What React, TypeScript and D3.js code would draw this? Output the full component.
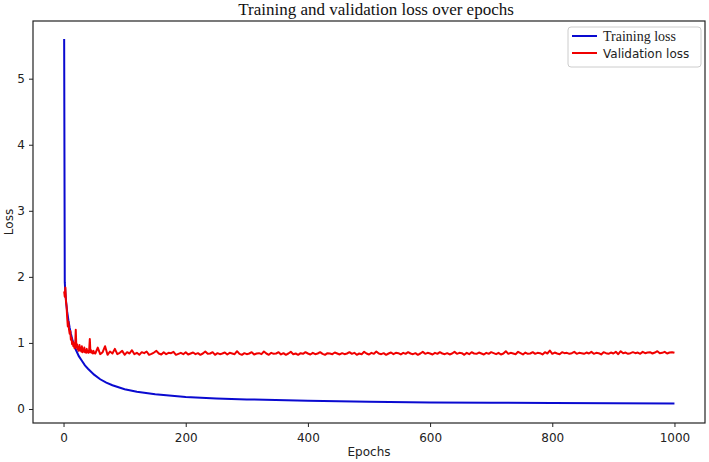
import React, { useEffect, useRef } from "react";
import * as d3 from "d3";

// training loss (smooth curve)
const trainEpochs = [1, 2, 3, 4, 5, 6, 8, 10, 12, 15, 20, 25, 30, 35, 40, 50, 60, 70, 80, 100, 120, 150, 200, 250, 300, 400, 500, 600, 700, 800, 900, 1000];
const trainLoss = [5.6, 1.92, 1.76, 1.64, 1.55, 1.47, 1.34, 1.23, 1.14, 1.03, 0.9, 0.8, 0.73, 0.66, 0.61, 0.52, 0.45, 0.4, 0.36, 0.3, 0.262, 0.222, 0.183, 0.16, 0.145, 0.125, 0.11, 0.1, 0.095, 0.09, 0.086, 0.082];

// validation loss: every epoch for 1..50, then every 4th epoch
const valEarly = [
  1.78, 1.7, 1.84, 1.62, 1.55, 1.38, 1.25, 1.32, 1.2, 1.14,
  1.18, 1.05, 1.08, 0.98, 1.02, 0.95, 0.99, 0.92, 0.96, 1.2,
  0.93, 0.98, 0.9, 0.94, 0.88, 0.97, 0.89, 0.92, 0.87, 0.95,
  0.86, 0.9, 0.87, 0.93, 0.86, 0.89, 0.85, 0.91, 0.86, 0.88,
  0.85, 0.9, 1.06, 0.86, 0.89, 0.85, 0.87, 0.84, 0.88, 0.85,
];
const valLate = [
  0.84, 0.93, 0.83, 0.86, 0.95, 0.82, 0.87, 0.84, 0.91, 0.83, 0.85, 0.88, 0.82, 0.86, 0.84, 0.89, 0.83, 0.85, 0.82, 0.86,
  0.845, 0.87, 0.82, 0.835, 0.855, 0.88, 0.84, 0.825, 0.86, 0.83, 0.85, 0.845, 0.865, 0.82, 0.835, 0.85, 0.83, 0.86, 0.825, 0.84,
  0.855, 0.83, 0.845, 0.82, 0.84, 0.87, 0.835, 0.84, 0.86, 0.82, 0.845, 0.83, 0.84, 0.855, 0.825, 0.85, 0.84, 0.83, 0.875, 0.835,
  0.82, 0.845, 0.83, 0.84, 0.86, 0.825, 0.84, 0.845, 0.83, 0.87, 0.84, 0.82, 0.85, 0.835, 0.84, 0.86, 0.825, 0.845, 0.82, 0.84,
  0.865, 0.83, 0.84, 0.82, 0.845, 0.835, 0.86, 0.84, 0.825, 0.85, 0.83, 0.84, 0.86, 0.835, 0.82, 0.845, 0.84, 0.83, 0.855, 0.84,
  0.825, 0.845, 0.83, 0.84, 0.86, 0.835, 0.85, 0.82, 0.84, 0.83, 0.865, 0.84, 0.825, 0.85, 0.835, 0.87, 0.84, 0.83, 0.845, 0.82,
  0.84, 0.855, 0.83, 0.85, 0.845, 0.825, 0.85, 0.835, 0.86, 0.84, 0.83, 0.845, 0.82, 0.84, 0.865, 0.835, 0.85, 0.84, 0.825, 0.85,
  0.835, 0.86, 0.84, 0.83, 0.845, 0.825, 0.84, 0.865, 0.835, 0.85, 0.845, 0.82, 0.85, 0.83, 0.86, 0.84, 0.835, 0.855, 0.84, 0.825,
  0.85, 0.835, 0.86, 0.845, 0.83, 0.85, 0.825, 0.84, 0.875, 0.835, 0.85, 0.84, 0.83, 0.865, 0.845, 0.825, 0.855, 0.835, 0.84, 0.86,
  0.835, 0.85, 0.845, 0.825, 0.86, 0.84, 0.885, 0.835, 0.855, 0.84, 0.83, 0.86, 0.845, 0.85, 0.835, 0.845, 0.865, 0.835, 0.85, 0.845,
  0.835, 0.855, 0.84, 0.865, 0.835, 0.85, 0.845, 0.825, 0.86, 0.845, 0.835, 0.855, 0.84, 0.865, 0.83, 0.875, 0.845, 0.855, 0.835, 0.845,
  0.86, 0.845, 0.855, 0.835, 0.865, 0.845, 0.855, 0.86, 0.84, 0.855, 0.875, 0.845, 0.85, 0.865, 0.84, 0.855, 0.86, 0.85,
];

const xTicks = [0, 200, 400, 600, 800, 1000];
const yTicks = [0, 1, 2, 3, 4, 5];
const legendLabels = ["Training loss", "Validation loss"];

const W = 709;
const H = 462;

const App = () => {
  const ref = useRef<SVGSVGElement>(null);

  useEffect(() => {
    const svg = d3.select(ref.current);
    svg.selectAll("*").remove();

    const left = 33, right = 705, top = 21, bottom = 423;
    const x = d3.scaleLinear().domain([-50, 1050]).range([left, right]);
    const y = d3.scaleLinear().domain([-0.212, 5.873]).range([bottom, top]);

    const train = trainEpochs.map((e, i) => [e, trainLoss[i]] as [number, number]);
    const val = [
      ...valEarly.map((v, i) => [i + 1, v] as [number, number]),
      ...valLate.map((v, i) => [52 + i * 4, v] as [number, number]),
    ];

    const line = d3.line<[number, number]>().x((d) => x(d[0])).y((d) => y(d[1]));

    svg.append("rect").attr("width", W).attr("height", H).attr("fill", "white");

    svg.append("path").attr("d", line(train)).attr("fill", "none")
      .attr("stroke", "#0a0ad0").attr("stroke-width", 2);
    svg.append("path").attr("d", line(val)).attr("fill", "none")
      .attr("stroke", "#f00000").attr("stroke-width", 2).attr("stroke-linejoin", "round");

    // frame
    svg.append("rect").attr("x", left).attr("y", top)
      .attr("width", right - left).attr("height", bottom - top)
      .attr("fill", "none").attr("stroke", "#222").attr("stroke-width", 1.2);

    const font = "DejaVu Sans, sans-serif";

    // x axis
    const gx = svg.append("g").attr("transform", `translate(0,${bottom})`)
      .call(d3.axisBottom(x).tickValues(xTicks).tickSize(4).tickPadding(6).tickFormat(d3.format("d")));
    gx.select(".domain").remove();
    gx.selectAll("line").attr("stroke", "#222");
    gx.selectAll("text").attr("font-family", font).attr("font-size", 12).attr("fill", "#222");

    // y axis
    const gy = svg.append("g").attr("transform", `translate(${left},0)`)
      .call(d3.axisLeft(y).tickValues(yTicks).tickSize(4).tickPadding(4).tickFormat(d3.format("d")));
    gy.select(".domain").remove();
    gy.selectAll("line").attr("stroke", "#222");
    gy.selectAll("text").attr("font-family", font).attr("font-size", 12).attr("fill", "#222");

    // labels
    svg.append("text").attr("x", (left + right) / 2).attr("y", 456)
      .attr("text-anchor", "middle").attr("font-family", font).attr("font-size", 12)
      .attr("fill", "#222").text("Epochs");
    svg.append("text").attr("transform", `translate(13,${(top + bottom) / 2}) rotate(-90)`)
      .attr("text-anchor", "middle").attr("font-family", font).attr("font-size", 12)
      .attr("fill", "#222").text("Loss");
    svg.append("text").attr("x", 376).attr("y", 15)
      .attr("text-anchor", "middle").attr("font-family", "Liberation Serif, serif").attr("font-size", 17)
      .attr("fill", "#111").text("Training and validation loss over epochs");

    // legend
    const lg = svg.append("g");
    lg.append("rect").attr("x", 568).attr("y", 27).attr("width", 133).attr("height", 40)
      .attr("rx", 3).attr("fill", "white").attr("stroke", "#ccc");
    const colors = ["#0a0ad0", "#f00000"];
    legendLabels.forEach((lab, i) => {
      const ly = 36 + i * 17;
      lg.append("line").attr("x1", 572).attr("x2", 597).attr("y1", ly).attr("y2", ly)
        .attr("stroke", colors[i]).attr("stroke-width", 2);
      lg.append("text").attr("x", 603).attr("y", ly + 4.5)
        .attr("font-family", i === 0 ? "Liberation Serif, serif" : font)
        .attr("font-size", i === 0 ? 14 : 12).attr("fill", "#222").text(lab);
    });
  }, []);

  return <svg ref={ref} width={W} height={H} style={{ position: "absolute", left: 0, top: 0 }} />;
};

export default App;
